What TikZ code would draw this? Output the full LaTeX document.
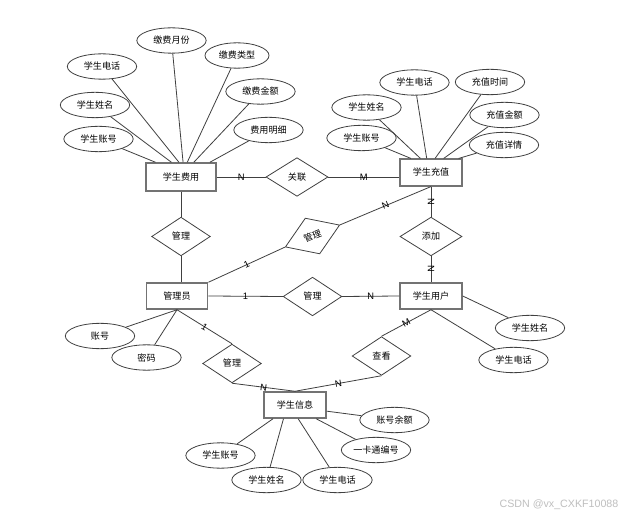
\documentclass[tikz,border=0pt]{standalone}
\usepackage{fontspec}
\newfontfamily\cjk{Noto Sans CJK SC}
\newfontfamily\lab{Liberation Sans}
\usepackage{tikz}
\usetikzlibrary{shapes,arrows}

\begin{document}
\begin{tikzpicture}[x=0.75pt,y=-0.75pt]
\tikzstyle{every node}=[font=\cjk\fontsize{6.8}{8}\selectfont]
\tikzstyle{entity}=[draw=black!55,line width=1.1pt,minimum width=46.5pt,minimum height=20pt,inner sep=1pt]
\tikzstyle{attr}=[ellipse,draw=black!75,line width=0.6pt,minimum width=52pt,minimum height=19pt,inner sep=0pt]
\tikzstyle{rel}=[diamond,draw=black!75,line width=0.6pt,aspect=1.5,minimum width=44pt,minimum height=29pt,inner sep=1pt]
\tikzstyle{card}=[font=\lab\fontsize{7}{8}\selectfont,sloped,inner sep=0pt]
\tikzstyle{link}=[draw=black!75,line width=0.6pt]
\fill[white] (0,0) rectangle (627,516);
\useasboundingbox (0,0) rectangle (627,516);

% entities
\node [entity,minimum width=52.5pt,minimum height=21pt] (fee) at (181,177) {学生费用};
\node [entity] (chong) at (431,172.5) {学生充值};
\node [entity,minimum width=46pt,minimum height=19.5pt] (admin) at (177,296) {管理员};
\node [entity,minimum height=19.5pt] (user) at (431,296) {学生用户};
\node [entity,minimum height=19.5pt] (info) at (295,405) {学生信息};

% relations
\node [rel,minimum width=46.5pt] (glian) at (297,177) {关联};
\node [rel] (gfee) at (181,236.5) {管理};
\node [rel,rotate=22] (gmid) at (312.5,236) {管理};
\node [rel,minimum width=46.5pt] (tianjia) at (431,236.5) {添加};
\node [rel] (guser) at (312.5,296.5) {管理};
\node [rel] (ginfo) at (232,363.5) {管理};
\node [rel] (chakan) at (381.5,356) {查看};

% attributes of fee
\node [attr] (a1) at (171.5,40.5) {缴费月份};
\node [attr,minimum width=48pt] (a2) at (237,55.5) {缴费类型};
\node [attr] (a3) at (102,66.5) {学生电话};
\node [attr] (a4) at (260.5,91.5) {缴费金额};
\node [attr] (a5) at (95,105) {学生姓名};
\node [attr] (a6) at (268.5,130) {费用明细};
\node [attr] (a7) at (98.5,139) {学生账号};
\draw [link] (a7) -- (fee.150);
\draw [link] (a5) -- (fee.123);
\draw [link] (a3) -- (fee.98);
\draw [link] (a1) -- (fee.82);
\draw [link] (a2) -- (fee.67);
\draw [link] (a4) -- (fee.49);
\draw [link] (a6) -- (fee.27);

% attributes of chong
\node [attr] (b1) at (414.5,82.5) {学生电话};
\node [attr] (b2) at (490,82) {充值时间};
\node [attr] (b3) at (366.5,107.5) {学生姓名};
\node [attr] (b4) at (504.5,115) {充值金额};
\node [attr] (b5) at (361.5,138) {学生账号};
\node [attr] (b6) at (504,145) {充值详情};
\draw [link] (b5) -- (chong.145);
\draw [link] (b3) -- (chong.127);
\draw [link] (b1) -- (chong.107);
\draw [link] (b2) -- (chong.74);
\draw [link] (b4) -- (chong.48);
\draw [link] (b6) -- (chong.27);

% attributes of user and admin
\node [attr] (c1) at (530,328) {学生姓名};
\node [attr] (c2) at (513.5,360) {学生电话};
\draw [link] (user.east) -- (c1);
\draw [link] (user.south) -- (c2);
\node [attr] (d1) at (100,336) {账号};
\node [attr] (d2) at (146.5,357.5) {密码};
\draw [link] (admin.south) -- (d1);
\draw [link] (admin.south) -- (d2);

% attributes of info
\node [attr] (e1) at (394.5,420) {账号余额};
\node [attr] (e2) at (376,450) {一卡通编号};
\node [attr] (e3) at (220.5,455.5) {学生账号};
\node [attr] (e4) at (266.5,480) {学生姓名};
\node [attr] (e5) at (337.5,480) {学生电话};
\draw [link] (info.-11) -- (e1);
\draw [link] (info.-33) -- (e2);
\draw [link] (info.-77) -- (e5);
\draw [link] (info.-130) -- (e4);
\draw [link] (info.-148) -- (e3);

% relationship lines
\draw [link] (fee.east) -- node[card]{N} (glian.west);
\draw [link] (glian.east) -- node[card]{M} (chong.west |- glian.east);
\draw [link] (fee.south) -- (gfee.north);
\draw [link] (gfee.south) -- (admin.north -| gfee.south);
\draw [link] (admin.north east) -- node[card]{1} (gmid.west);
\draw [link] (gmid.east) -- node[card]{N} (chong.south);
\draw [link] (chong.south) -- node[card]{N} (tianjia.north);
\draw [link] (tianjia.south) -- node[card]{N} (user.north);
\draw [link] (admin.east) -- node[card]{1} (guser.west);
\draw [link] (guser.east) -- node[card]{N} (user.west);
\draw [link] (admin.south) -- node[card]{1} (ginfo.north);
\draw [link] (ginfo.south) -- node[card]{N} (info.north);
\draw [link] (user.south) -- node[card]{M} (chakan.north);
\draw [link] (chakan.south) -- node[card]{N} (info.north);

\node [font=\lab\fontsize{8}{9}\selectfont,text=black!25] (wm) at (559,505) {CSDN @vx\_CXKF10088};
\end{tikzpicture}
\end{document}
